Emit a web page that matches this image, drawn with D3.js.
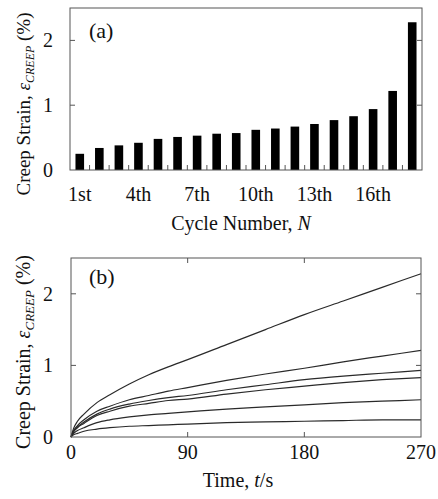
<!DOCTYPE html>
<html>
<head>
<meta charset="utf-8">
<script src="https://cdn.jsdelivr.net/npm/d3@7"></script>
<style>
  body { margin: 0; background: #fff; }
  text { font-family: "Liberation Serif", "Times New Roman", serif; fill: #111; }
</style>
</head>
<body>
<div id="chart"></div>
<script>
// panel (a): creep strain per cycle
const cycles = d3.range(1, 19);
const cycleStrain = [0.25, 0.34, 0.38, 0.42, 0.48, 0.51, 0.53, 0.56, 0.57, 0.62,
                     0.64, 0.67, 0.71, 0.77, 0.83, 0.94, 1.22, 2.28];
const cycleTickLabels = ["1st", "4th", "7th", "10th", "13th", "16th"];

// panel (b): creep curves, sampled times (s) and strain (%)
const times   = [0, 2, 5, 10, 20, 30, 45, 60, 75, 90, 120, 150, 180, 210, 240, 270];
const curve1  = [0, 0.12, 0.22, 0.32, 0.48, 0.59, 0.74, 0.87, 0.98, 1.08, 1.29, 1.50, 1.71, 1.90, 2.09, 2.28];
const curve2  = [0, 0.09, 0.16, 0.24, 0.36, 0.43, 0.52, 0.58, 0.64, 0.69, 0.79, 0.88, 0.96, 1.05, 1.13, 1.21];
const curve3  = [0, 0.08, 0.14, 0.21, 0.32, 0.39, 0.46, 0.51, 0.55, 0.58, 0.66, 0.73, 0.80, 0.85, 0.89, 0.93];
const curve4  = [0, 0.07, 0.13, 0.19, 0.30, 0.36, 0.43, 0.47, 0.51, 0.53, 0.60, 0.66, 0.71, 0.76, 0.80, 0.83];
const curve5  = [0, 0.05, 0.09, 0.13, 0.20, 0.24, 0.28, 0.31, 0.33, 0.35, 0.39, 0.42, 0.45, 0.48, 0.50, 0.52];
const curve6  = [0, 0.03, 0.05, 0.08, 0.11, 0.13, 0.15, 0.16, 0.17, 0.18, 0.20, 0.21, 0.22, 0.23, 0.24, 0.24];
const curves = [curve1, curve2, curve3, curve4, curve5, curve6];
const timeTicks = [0, 90, 180, 270];
const strainTicks = [0, 1, 2];

const W = 438, H = 499;
const frameColor = "#555";
const tickLen = 5;

const svg = d3.select("#chart").append("svg")
    .attr("width", W)
    .attr("height", H);

// y title with italic epsilon and subscript
function yTitle(g, cx, cy, size, subSize) {
    const t = g.append("text")
        .attr("transform", `translate(${cx},${cy}) rotate(-90)`)
        .attr("text-anchor", "middle")
        .attr("font-size", size);
    t.append("tspan").text("Creep Strain, ");
    t.append("tspan").attr("font-style", "italic").text("ε");
    t.append("tspan").attr("font-style", "italic").attr("font-size", subSize)
        .attr("dy", 4).text("CREEP");
    t.append("tspan").attr("dy", -4).text(" (%)");
}

// ---------- panel (a) ----------
const a = { left: 70, right: 422, top: 8, bottom: 170 };

const xa = d3.scaleBand()
    .domain(cycles)
    .range([a.left, a.right])
    .paddingInner(0.56)
    .paddingOuter(0.28);
const ya = d3.scaleLinear().domain([0, 2.5]).range([a.bottom, a.top]);

const ga = svg.append("g");

ga.selectAll("rect.bar")
    .data(cycleStrain)
    .join("rect")
    .attr("class", "bar")
    .attr("x", (d, i) => xa(cycles[i]))
    .attr("width", xa.bandwidth())
    .attr("y", d => ya(d))
    .attr("height", d => ya(0) - ya(d))
    .attr("fill", "#000");

// small ticks between bars
const stepA = xa.step();
ga.selectAll("line.xt")
    .data(cycles.slice(1))
    .join("line")
    .attr("class", "xt")
    .attr("x1", d => xa(d) - stepA * 0.28)
    .attr("x2", d => xa(d) - stepA * 0.28)
    .attr("y1", a.bottom)
    .attr("y2", a.bottom - tickLen)
    .attr("stroke", frameColor);

// y ticks left and right
[a.left, a.right].forEach((xx, k) => {
    ga.selectAll(null)
        .data(strainTicks.slice(1))
        .join("line")
        .attr("x1", xx)
        .attr("x2", k === 0 ? xx + tickLen : xx - tickLen)
        .attr("y1", d => ya(d))
        .attr("y2", d => ya(d))
        .attr("stroke", frameColor);
});

ga.append("rect")
    .attr("x", a.left).attr("y", a.top)
    .attr("width", a.right - a.left).attr("height", a.bottom - a.top)
    .attr("fill", "none").attr("stroke", frameColor).attr("stroke-width", 1);

ga.selectAll("text.yl")
    .data(strainTicks)
    .join("text")
    .attr("class", "yl")
    .attr("x", 48)
    .attr("y", d => ya(d) + 7)
    .attr("text-anchor", "middle")
    .attr("font-size", 20)
    .text(d => d);

ga.selectAll("text.xl")
    .data(cycleTickLabels)
    .join("text")
    .attr("class", "xl")
    .attr("x", (d, i) => xa(cycles[i * 3]) + xa.bandwidth() / 2)
    .attr("y", 201)
    .attr("text-anchor", "middle")
    .attr("font-size", 20)
    .text(d => d);

const xta = ga.append("text")
    .attr("x", 241).attr("y", 230)
    .attr("text-anchor", "middle")
    .attr("font-size", 20);
xta.append("tspan").text("Cycle Number, ");
xta.append("tspan").attr("font-style", "italic").text("N");

yTitle(ga, 30, 104, 19, 12);

ga.append("text")
    .attr("x", 89).attr("y", 38)
    .attr("font-size", 22)
    .text("(a)");

// ---------- panel (b) ----------
const b = { left: 71, right: 421, top: 258, bottom: 437 };

const xb = d3.scaleLinear().domain([0, 270]).range([b.left, b.right]);
const yb = d3.scaleLinear().domain([0, 2.5]).range([b.bottom, b.top]);

const gb = svg.append("g");

const line = d3.line()
    .x((d, i) => xb(times[i]))
    .y(d => yb(d))
    .curve(d3.curveMonotoneX);

gb.selectAll("path.curve")
    .data(curves)
    .join("path")
    .attr("class", "curve")
    .attr("d", line)
    .attr("fill", "none")
    .attr("stroke", "#2a2a2a")
    .attr("stroke-width", 1.2);

// ticks on all four sides
const innerTimes = timeTicks.slice(1, -1);
[b.bottom, b.top].forEach((yy, k) => {
    gb.selectAll(null)
        .data(innerTimes)
        .join("line")
        .attr("x1", d => xb(d)).attr("x2", d => xb(d))
        .attr("y1", yy)
        .attr("y2", k === 0 ? yy - tickLen : yy + tickLen)
        .attr("stroke", frameColor);
});
[b.left, b.right].forEach((xx, k) => {
    gb.selectAll(null)
        .data(strainTicks.slice(1))
        .join("line")
        .attr("x1", xx)
        .attr("x2", k === 0 ? xx + tickLen : xx - tickLen)
        .attr("y1", d => yb(d)).attr("y2", d => yb(d))
        .attr("stroke", frameColor);
});

gb.append("rect")
    .attr("x", b.left).attr("y", b.top)
    .attr("width", b.right - b.left).attr("height", b.bottom - b.top)
    .attr("fill", "none").attr("stroke", frameColor).attr("stroke-width", 1);

gb.selectAll("text.yl")
    .data(strainTicks)
    .join("text")
    .attr("class", "yl")
    .attr("x", 48)
    .attr("y", d => yb(d) + 7)
    .attr("text-anchor", "middle")
    .attr("font-size", 20)
    .text(d => d);

gb.selectAll("text.xl")
    .data(timeTicks)
    .join("text")
    .attr("class", "xl")
    .attr("x", d => xb(d))
    .attr("y", 459)
    .attr("text-anchor", "middle")
    .attr("font-size", 20)
    .text(d => d);

const xtb = gb.append("text")
    .attr("x", 238).attr("y", 487)
    .attr("text-anchor", "middle")
    .attr("font-size", 20);
xtb.append("tspan").text("Time, ");
xtb.append("tspan").attr("font-style", "italic").text("t");
xtb.append("tspan").text("/s");

yTitle(gb, 30, 352, 20, 13);

gb.append("text")
    .attr("x", 89).attr("y", 284)
    .attr("font-size", 22)
    .text("(b)");
</script>
</body>
</html>
